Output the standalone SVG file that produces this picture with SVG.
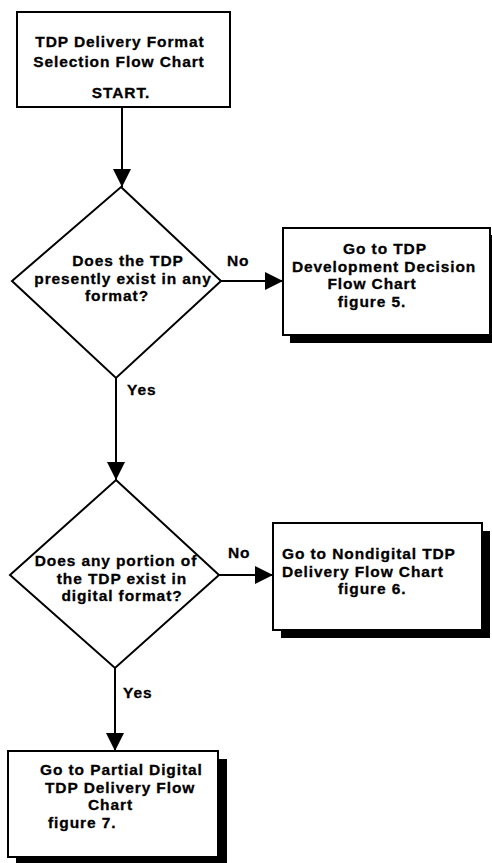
<svg xmlns="http://www.w3.org/2000/svg" width="492" height="863" viewBox="0 0 492 863">
  <style>
    .box { fill: #fff; stroke: #000; stroke-width: 2; }
    .shadow { fill: #000; }
    .dia { fill: #fff; stroke: #000; stroke-width: 2; stroke-linejoin: miter; }
    .edge { fill: none; stroke: #000; stroke-width: 2; }
    text { font-family: "Liberation Sans", Arial, sans-serif; font-weight: bold; font-size: 15.5px; letter-spacing: 0.9px; fill: #000; stroke: #000; stroke-width: 0.3; }
    .c { text-anchor: middle; }
  </style>
  <defs>
    <marker id="arrow" markerUnits="userSpaceOnUse" markerWidth="20" markerHeight="20" viewBox="0 0 20 20" refX="18" refY="10" orient="auto">
      <path d="M0,1 L18,10 L0,19 Z" fill="#000"/>
    </marker>
  </defs>
  <rect width="492" height="863" fill="#fff"/>

  <!-- connectors -->
  <g id="connectors">
    <line class="edge" x1="122" y1="107" x2="122" y2="187" marker-end="url(#arrow)"/>
    <line class="edge" x1="221" y1="281" x2="283" y2="281" marker-end="url(#arrow)"/>
    <line class="edge" x1="116" y1="378" x2="116" y2="480" marker-end="url(#arrow)"/>
    <line class="edge" x1="219" y1="575" x2="273" y2="575" marker-end="url(#arrow)"/>
    <line class="edge" x1="115" y1="668" x2="115" y2="751" marker-end="url(#arrow)"/>
    <text x="227" y="266">No</text>
    <text x="127" y="395">Yes</text>
    <text x="228" y="558">No</text>
    <text x="123" y="698">Yes</text>
  </g>

  <!-- start box -->
  <g id="start">
    <rect class="box" x="17" y="12" width="213" height="95"/>
    <text class="c" x="120" y="47">TDP Delivery Format</text>
    <text class="c" x="119" y="67">Selection Flow Chart</text>
    <text class="c" x="121" y="98">START.</text>
  </g>

  <!-- decision: does the TDP exist -->
  <g id="decision-exist">
    <polygon class="dia" points="121,187 221,281 116,378 12,281"/>
    <text class="c" x="128" y="266">Does the TDP</text>
    <text class="c" x="123" y="283.5">presently exist in any</text>
    <text class="c" x="117" y="301">format?</text>
  </g>

  <!-- go to development decision chart -->
  <g id="goto-fig5">
    <rect class="shadow" x="290" y="235" width="207" height="108"/>
    <rect class="box" x="283" y="228" width="207" height="107"/>
    <text class="c" x="385" y="254">Go to TDP</text>
    <text class="c" x="384" y="271.5">Development Decision</text>
    <text class="c" x="372" y="289">Flow Chart</text>
    <text class="c" x="372" y="306.5">figure 5.</text>
  </g>

  <!-- decision: digital portion -->
  <g id="decision-digital">
    <polygon class="dia" points="116,480 219,575 115,668 10,575"/>
    <text class="c" x="116" y="566">Does any portion of</text>
    <text class="c" x="122" y="583.5">the TDP exist in</text>
    <text class="c" x="122" y="601">digital format?</text>
  </g>

  <!-- go to nondigital chart -->
  <g id="goto-fig6">
    <rect class="shadow" x="281" y="531" width="209" height="107"/>
    <rect class="box" x="273" y="523" width="209" height="107"/>
    <text x="282" y="559">Go to Nondigital TDP</text>
    <text x="282" y="576.5">Delivery Flow Chart</text>
    <text x="338" y="594">figure 6.</text>
  </g>

  <!-- go to partial digital chart -->
  <g id="goto-fig7">
    <rect class="shadow" x="16" y="759" width="211" height="106"/>
    <rect class="box" x="8" y="751" width="210" height="106"/>
    <text x="40" y="775">Go to Partial Digital</text>
    <text x="45" y="792.5">TDP Delivery Flow</text>
    <text x="88" y="810">Chart</text>
    <text x="48" y="827.5">figure 7.</text>
  </g>
</svg>
